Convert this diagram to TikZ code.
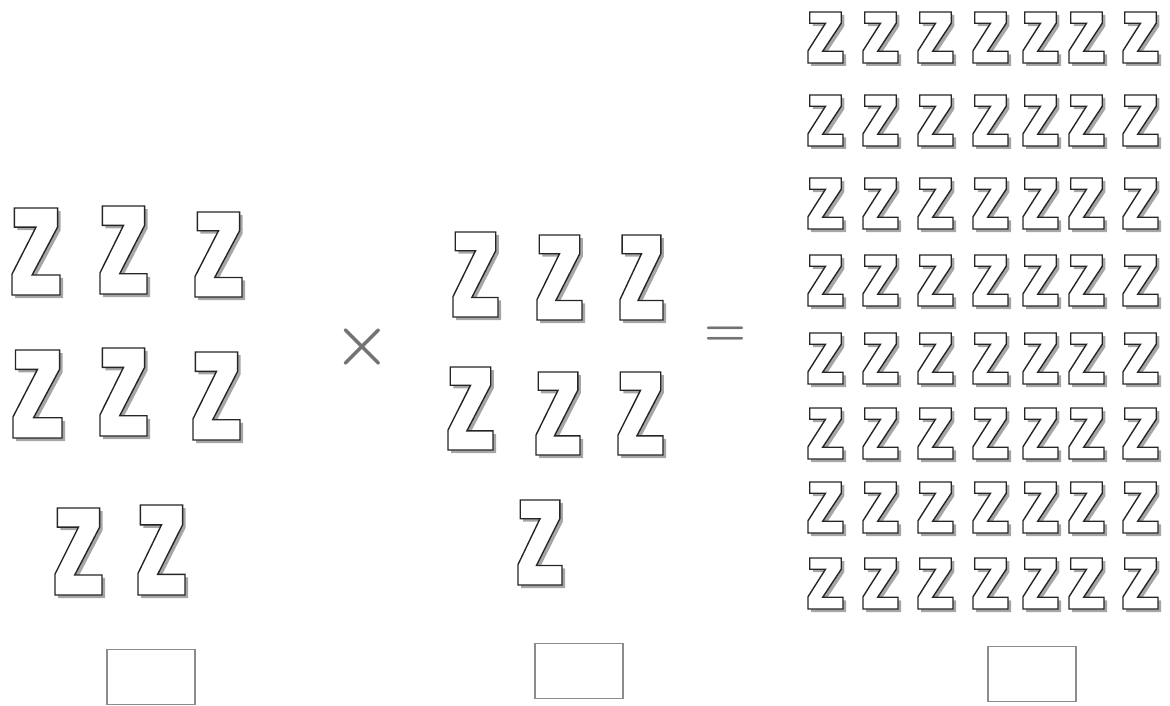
\documentclass[tikz,border=0pt]{standalone}
\begin{document}
\begin{tikzpicture}[x=1pt,y=-1pt,
  zshadow/.style={fill=black!35},
  zbody/.style={fill=white,draw=black!85,line width=1.4pt,line join=miter},
  answerbox/.style={draw=black!45,line width=1.3pt,minimum width=88pt,minimum height=55pt,inner sep=0pt},
  sign/.style={text=black!55,inner sep=0pt},
  pics/zed/.style 2 args={code={
    \path[zshadow,shift={(3,3)},xscale=#1,yscale=#2]
      (0.05,0) -- (0.95,0) -- (0.95,0.22) -- (0.42,0.77) -- (1,0.77) -- (1,1)
      -- (0,1) -- (0,0.76) -- (0.5,0.22) -- (0.05,0.22) -- cycle;
    \path[zbody,xscale=#1,yscale=#2]
      (0.05,0) -- (0.95,0) -- (0.95,0.22) -- (0.42,0.77) -- (1,0.77) -- (1,1)
      -- (0,1) -- (0,0.76) -- (0.5,0.22) -- (0.05,0.22) -- cycle;
  }}
]
\useasboundingbox (0,0) rectangle (1170,706);

% left group
\pic (la1) at (12,208) {zed={48}{87}};
\pic (la2) at (100,206) {zed={47}{88}};
\pic (la3) at (195,212) {zed={47}{85}};
\pic (lb1) at (13,350) {zed={49}{88}};
\pic (lb2) at (100,348) {zed={47}{88}};
\pic (lb3) at (193,352) {zed={47}{88}};
\pic (lc1) at (55,508) {zed={47}{87}};
\pic (lc2) at (138,505) {zed={47}{90}};

% middle group
\pic (ma1) at (453,232) {zed={45}{85}};
\pic (ma2) at (537,235) {zed={45}{85}};
\pic (ma3) at (620,235) {zed={43}{85}};
\pic (mb1) at (448,367) {zed={45}{83}};
\pic (mb2) at (536,372) {zed={44}{83}};
\pic (mb3) at (618,372) {zed={45}{83}};
\pic (mc1) at (518,500) {zed={44}{85}};

% right grid 7 x 8
\foreach \r/\y in {1/12,2/95,3/178,4/255,5/333,6/408,7/482,8/558}{
  \foreach \c/\x in {1/808,2/863,3/918,4/973,5/1023,6/1069,7/1123}{
    \pic (r\r c\c) at (\x,\y) {zed={35}{51}};
  }
}

% signs
\node[sign,font=\fontsize{66}{66}\selectfont\bfseries] (times) at (362,347) {×};
\node[sign,font=\fontsize{48}{48}\selectfont\bfseries] (equals) at (725,336) {=};

% answer boxes
\node[answerbox] (boxL) at (151,677) {};
\node[answerbox] (boxM) at (579,671) {};
\node[answerbox] (boxR) at (1032,674) {};
\end{tikzpicture}
\end{document}
